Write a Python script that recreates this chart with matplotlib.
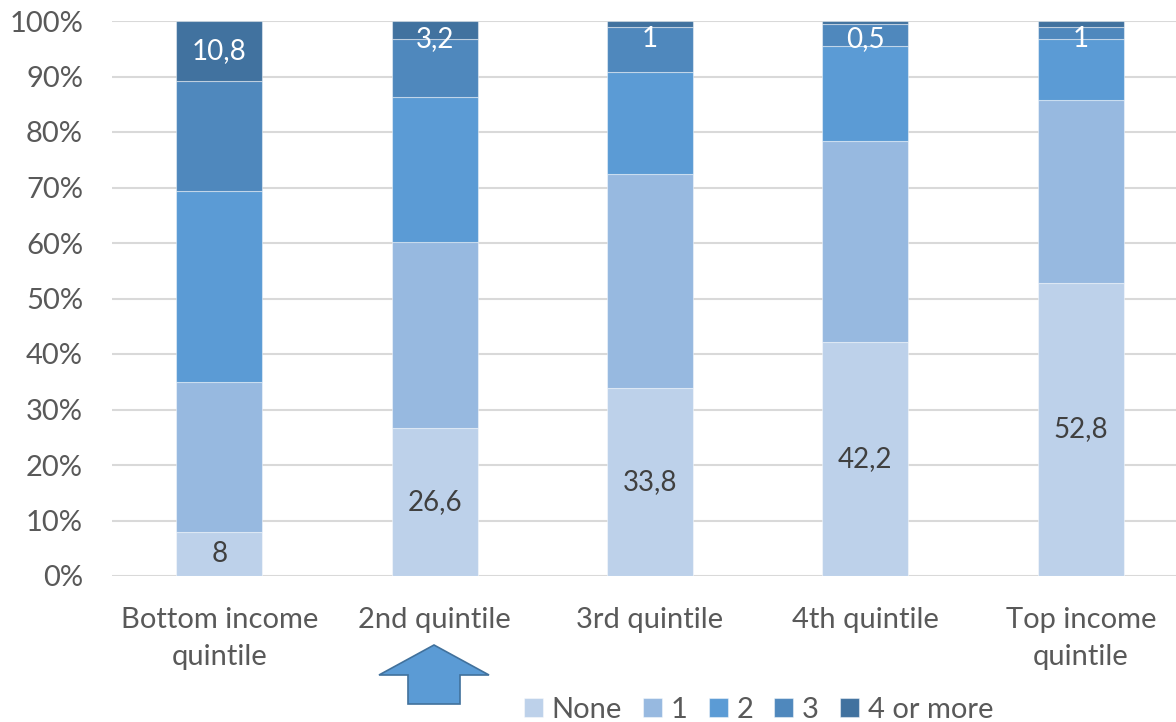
import numpy as np
import matplotlib.pyplot as plt
from matplotlib.patches import Polygon

plt.rcParams['font.family'] = ['Lato', 'DejaVu Sans']

# quintiles and shares (%) by number of ... 
categories = ['Bottom income\nquintile', '2nd quintile', '3rd quintile',
              '4th quintile', 'Top income\nquintile']
series = ['None', '1', '2', '3', '4 or more']
none_vals = [8, 26.6, 33.8, 42.2, 52.8]
one_vals = [27.0, 33.6, 38.6, 36.2, 33.0]
two_vals = [34.4, 26.1, 18.4, 17.1, 11.0]
three_vals = [19.8, 10.5, 8.2, 4.0, 2.2]
four_vals = [10.8, 3.2, 1, 0.5, 1]
none_labels = ['8', '26,6', '33,8', '42,2', '52,8']
four_labels = ['10,8', '3,2', '1', '0,5', '1']

colors = ['#BDD1EA', '#97B9E0', '#5B9BD5', '#4F88BD', '#41729F']

fig = plt.figure(figsize=(11.76, 7.22), dpi=100)
ax = fig.add_axes([111.5 / 1176, 146 / 722, 1077 / 1176, 555 / 722])

x = np.arange(len(categories))
data = [none_vals, one_vals, two_vals, three_vals, four_vals]
bottom = np.zeros(len(categories))
for vals, name, c in zip(data, series, colors):
    ax.bar(x, vals, width=0.4, bottom=bottom, color=c, label=name,
           edgecolor=(1, 1, 1, 0.45), linewidth=0.8, zorder=3)
    bottom += np.array(vals)

# data labels
for i in range(len(categories)):
    ax.text(x[i], none_vals[i] / 2, none_labels[i], ha='center', va='center',
            fontsize=20, color='#404040', zorder=4)
    top_center = 100 - four_vals[i] / 2
    ax.text(x[i], min(top_center, 96.8), four_labels[i], ha='center', va='center',
            fontsize=20, color='white', zorder=4)

ax.set_xlim(-0.5, len(categories) - 0.5)
ax.set_ylim(0, 100)
ax.set_yticks(np.arange(0, 101, 10))
ax.set_yticklabels([f'{v}%' for v in range(0, 101, 10)])
ax.set_xticks(x)
ax.set_xticklabels(categories, linespacing=1.55)
ax.tick_params(axis='both', length=0, labelsize=21, colors='#595959')
ax.tick_params(axis='y', pad=20.5)
ax.tick_params(axis='x', pad=22)
ax.grid(axis='y', color='#D9D9D9', linewidth=1.5, zorder=0)
for s in ax.spines.values():
    s.set_visible(False)

leg = fig.legend(loc='center left', bbox_to_anchor=(524 / 1176, 12 / 722), ncol=5,
                 frameon=False, fontsize=21, handlelength=0.65, handleheight=0.65,
                 handletextpad=0.3, columnspacing=0.72, labelcolor='#595959',
                 borderaxespad=0, borderpad=0)

# blue arrow under 2nd quintile
arrow_px = [(434, 645), (489, 675), (460, 675), (460, 704),
            (408, 704), (408, 675), (379, 675)]
arrow = Polygon([(px / 1176, 1 - py / 722) for px, py in arrow_px], closed=True,
                transform=fig.transFigure, facecolor='#5B9BD5',
                edgecolor='#41719C', linewidth=1.2)
fig.patches.append(arrow)

fig.savefig('out.png', dpi=100)
